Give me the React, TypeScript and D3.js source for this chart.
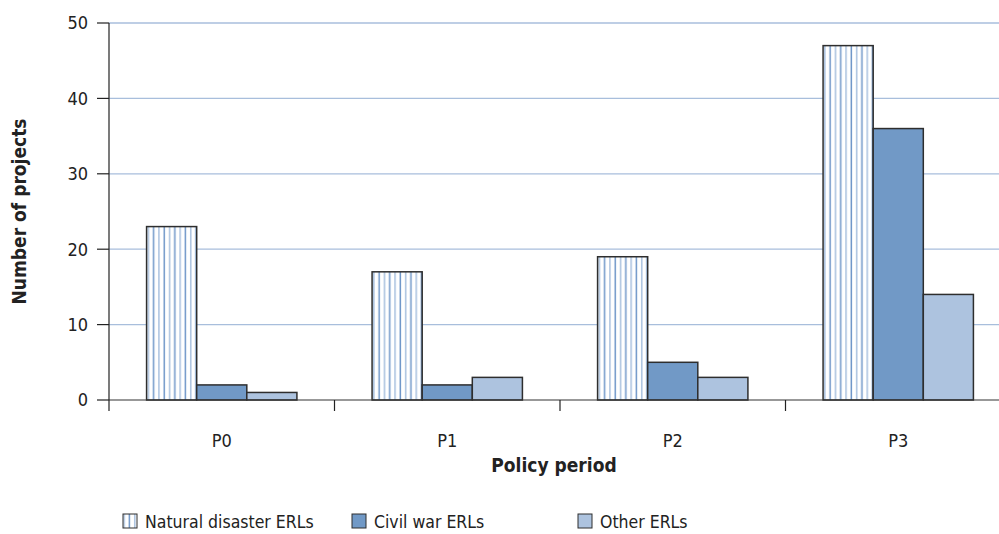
import React from "react";
import * as d3 from "d3";

const categories = ["P0", "P1", "P2", "P3"];
const seriesNames = ["Natural disaster ERLs", "Civil war ERLs", "Other ERLs"];
const natural = [23, 17, 19, 47];
const civil = [2, 2, 5, 36];
const other = [1, 3, 3, 14];
const yTicks = [0, 10, 20, 30, 40, 50];

const W = 999, H = 534;
const FONT = "'DejaVu Sans Condensed', 'Liberation Sans Narrow', 'Roboto', sans-serif";

export default function App() {
  const left = 109, right = 999, top = 23, bottom = 400;
  const x = d3.scaleBand().domain(categories).range([left, 1011]).paddingInner(0).paddingOuter(0);
  const y = d3.scaleLinear().domain([0, 50]).range([bottom, top]);
  const x1 = d3.scaleBand().domain(seriesNames).range([0, x.bandwidth()]).paddingOuter(0.75).paddingInner(0);
  const series = [natural, civil, other];
  const fills = ["url(#hatch)", "#7199c6", "#adc3df"];
  const boundaries = categories.map((c) => (x(c) as number)).slice(1);

  return (
    <svg width={W} height={H} style={{ position: "absolute", left: 0, top: 0, background: "#fff" }} fontFamily={FONT}>
      <defs>
        <pattern id="hatch" patternUnits="userSpaceOnUse" width={10.6} height={10}>
          <rect width={10.6} height={10} fill="#fff" />
          <rect x={1.5} width={1.5} height={10} fill="#6f96c9" />
          <rect x={6.8} width={1.5} height={10} fill="#a9c1df" />
        </pattern>
      </defs>
      {yTicks.slice(1).map((t) => (
        <line key={t} x1={left} x2={right} y1={y(t)} y2={y(t)} stroke="#a8bedc" strokeWidth={1.3} />
      ))}
      {categories.map((c, i) => (
        <g key={c} transform={`translate(${x(c)},0)`}>
          {series.map((s, j) => (
            <rect key={j} x={x1(seriesNames[j])} y={y(s[i])} width={x1.bandwidth()} height={y(0) - y(s[i])}
              fill={fills[j]} stroke="#2e2e2e" strokeWidth={1.5} />
          ))}
        </g>
      ))}
      <line x1={left} x2={right} y1={bottom} y2={bottom} stroke="#333" strokeWidth={1.2} />
      <line x1={left} x2={left} y1={top} y2={411} stroke="#222" strokeWidth={1.2} />
      {yTicks.map((t) => (
        <g key={t}>
          <line x1={97} x2={left} y1={y(t)} y2={y(t)} stroke="#222" strokeWidth={1.2} />
          <text x={88} y={y(t)} dy="0.36em" textAnchor="end" fontSize={18} fill="#222">{t}</text>
        </g>
      ))}
      {boundaries.map((b, i) => (
        <line key={i} x1={b} x2={b} y1={bottom} y2={411} stroke="#222" strokeWidth={1.2} />
      ))}
      {categories.map((c) => (
        <text key={c} x={(x(c) as number) + x.bandwidth() / 2} y={447} textAnchor="middle" fontSize={18} fill="#222">{c}</text>
      ))}
      <text x={554} y={472} textAnchor="middle" fontSize={19} fontWeight="bold" fill="#222">Policy period</text>
      <text transform={`translate(26,${(top + bottom) / 2}) rotate(-90)`} textAnchor="middle" fontSize={19} fontWeight="bold" fill="#222">Number of projects</text>
      {seriesNames.map((n, j) => {
        const lx = [123, 352, 578][j];
        return (
          <g key={n}>
            <rect x={lx} y={514} width={14} height={14} fill={fills[j]} stroke="#2e2e2e" strokeWidth={1} />
            <text x={lx + 22} y={528} fontSize={17.5} fill="#222">{n}</text>
          </g>
        );
      })}
    </svg>
  );
}
